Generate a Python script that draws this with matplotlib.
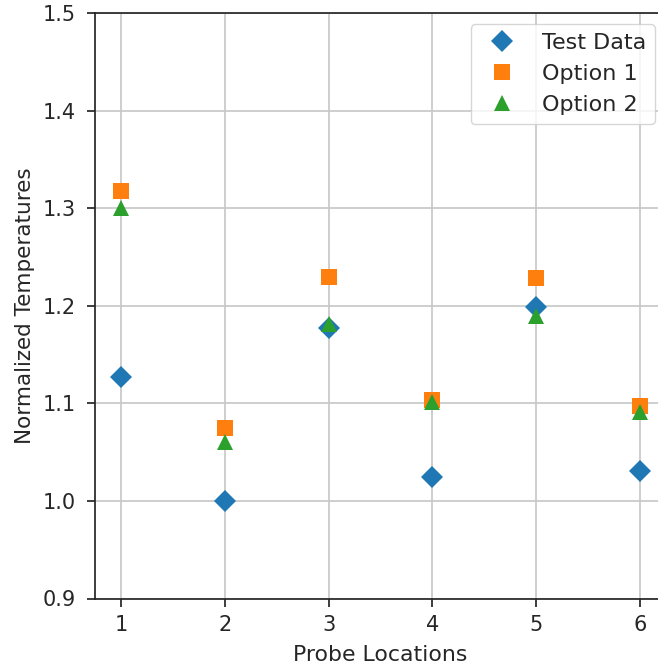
import matplotlib
matplotlib.use("Agg")
import matplotlib.pyplot as plt

locations = [1, 2, 3, 4, 5, 6]
test_data = [1.127, 1.000, 1.177, 1.024, 1.199, 1.031]
option_1 = [1.318, 1.075, 1.229, 1.103, 1.228, 1.097]
option_2 = [1.300, 1.060, 1.181, 1.101, 1.190, 1.091]

dark = "#262626"
plt.rcParams.update({
    "font.family": "DejaVu Sans",
    "text.color": dark,
    "axes.labelcolor": dark,
    "xtick.color": dark,
    "ytick.color": dark,
    "axes.edgecolor": dark,
})


def main():
    W, H = 658, 669
    fig = plt.figure(figsize=(W / 100, H / 100), dpi=100)
    ax = fig.add_axes([95 / W, 70.5 / H, (666 - 95) / W, (656 - 70.5) / H])

    ax.plot(locations, test_data, linestyle="none", marker="D", markersize=11,
            mew=0, color="#1f77b4", label="Test Data", zorder=3)
    ax.plot(locations, option_1, linestyle="none", marker="s", markersize=11,
            mew=0, color="#ff7f0e", label="Option 1", zorder=3)
    ax.plot(locations, option_2, linestyle="none", marker="^", markersize=11,
            mew=0, color="#2ca02c", label="Option 2", zorder=3)

    ax.set_xlim(0.75, 6.25)
    ax.set_ylim(0.9, 1.5)
    ax.set_xticks(locations)
    ax.set_yticks([0.9, 1.0, 1.1, 1.2, 1.3, 1.4, 1.5])
    ax.set_yticklabels(["0.9", "1.0", "1.1", "1.2", "1.3", "1.4", "1.5"])
    ax.tick_params(labelsize=15, length=6, width=1.25)
    ax.tick_params(axis="x", pad=6)
    ax.tick_params(axis="y", pad=7.5)
    for s in ax.spines.values():
        s.set_linewidth(1.25)
    ax.grid(True, color="#c8c8c8", linewidth=1.25)
    ax.set_axisbelow(True)

    ax.set_xlabel("Probe Locations", fontsize=15.8, labelpad=7)
    ax.set_ylabel("Normalized Temperatures", fontsize=15.5, labelpad=6)

    leg = ax.legend(loc="upper right", fontsize=16, frameon=True)
    leg.get_frame().set_edgecolor("#cccccc")

    fig.savefig("out.png", dpi=100)


if __name__ == "__main__":
    main()
